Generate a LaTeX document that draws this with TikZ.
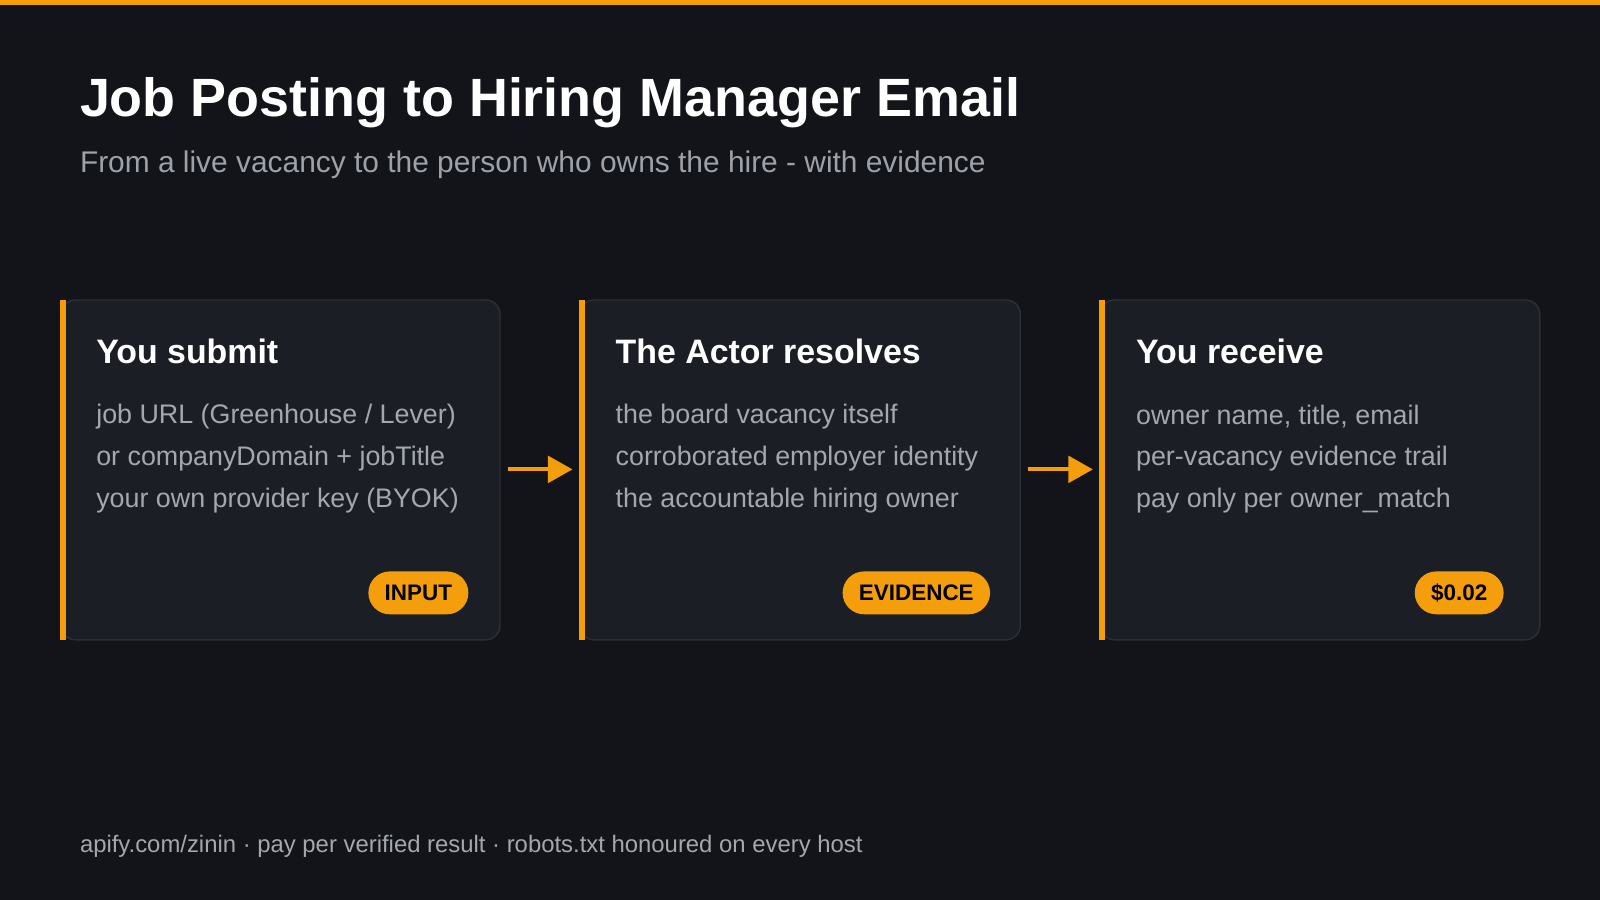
\documentclass[tikz,border=0pt]{standalone}
\usepackage{fontspec}
\setmainfont{Liberation Sans}
\usetikzlibrary{arrows.meta}
\definecolor{bg}{HTML}{121419}
\definecolor{card}{HTML}{1B1E25}
\definecolor{cardline}{HTML}{2B2F37}
\definecolor{accent}{HTML}{F59E0B}
\definecolor{body}{HTML}{A3A7AE}
\definecolor{sub}{HTML}{9CA1AA}
\begin{document}
\begin{tikzpicture}[x=0.5pt,y=-0.5pt,
  txt/.style={inner sep=0pt,anchor=west,text=body,font=\fontsize{13.15}{15}\selectfont},
  head/.style={inner sep=0pt,anchor=west,text=white,font=\fontsize{16.6}{19}\selectfont\bfseries},
  pill/.style={fill=accent,rounded corners=10.5pt,minimum height=21pt,inner xsep=8pt,text=black,font=\fontsize{11}{13}\selectfont\bfseries},
  cardbox/.style={fill=card,draw=cardline,line width=0.7pt,rounded corners=7pt},
  arr/.style={draw=accent,line width=2pt,-{Triangle[length=12pt,width=13pt]}}]
\fill[bg] (0,0) rectangle (1568,882);
\useasboundingbox (0,0) rectangle (1568,882);
\fill[accent] (0,0) rectangle (1568,5);
\node[inner sep=0pt,anchor=west,text=white,font=\fontsize{26.4}{30}\selectfont\bfseries] (title) at (78,101) {Job Posting to Hiring Manager Email};
\node[inner sep=0pt,anchor=west,text=sub,font=\fontsize{14.65}{17}\selectfont] (subtitle) at (78,161) {From a live vacancy to the person who owns the hire - with evidence};
% cards
\foreach \x/\w/\n in {60/430/c1,568/432/c2,1078/431/c3}{
  \draw[cardbox] (\x,294) rectangle ++(\w,333);
  \fill[accent] (\x-1,294) rectangle ++(6,333);
  \coordinate (\n) at (\x,294);
}
\node[head] (h1) at (94,344) {You submit};
\node[txt] (a1) at (94,408) {job URL (Greenhouse / Lever)};
\node[txt] (a2) at (94,449) {or companyDomain + jobTitle};
\node[txt] (a3) at (94,491) {your own provider key (BYOK)};
\node[pill] (p1) at (410,581) {INPUT};
\node[head] (h2) at (603,344) {The Actor resolves};
\node[txt] (b1) at (603,408) {the board vacancy itself};
\node[txt] (b2) at (603,449) {corroborated employer identity};
\node[txt] (b3) at (603,491) {the accountable hiring owner};
\node[pill] (p2) at (898,581) {EVIDENCE};
\node[head] (h3) at (1113,344) {You receive};
\node[txt] (d1) at (1113,408) {owner name, title, email};
\node[txt] (d2) at (1113,449) {per-vacancy evidence trail};
\node[txt] (d3) at (1113,491) {pay only per owner\_match};
\node[pill] (p3) at (1430,581) {\$0.02};
\coordinate (s1) at (498,460); \coordinate (e1) at (561,460);
\coordinate (s2) at (1007,460); \coordinate (e2) at (1071,460);
\draw[arr] (s1) -- (e1);
\draw[arr] (s2) -- (e2);
\node[inner sep=0pt,anchor=west,text=body,font=\fontsize{11.7}{14}\selectfont] (foot) at (78,829) {apify.com/zinin · pay per verified result · robots.txt honoured on every host};
\end{tikzpicture}
\end{document}
